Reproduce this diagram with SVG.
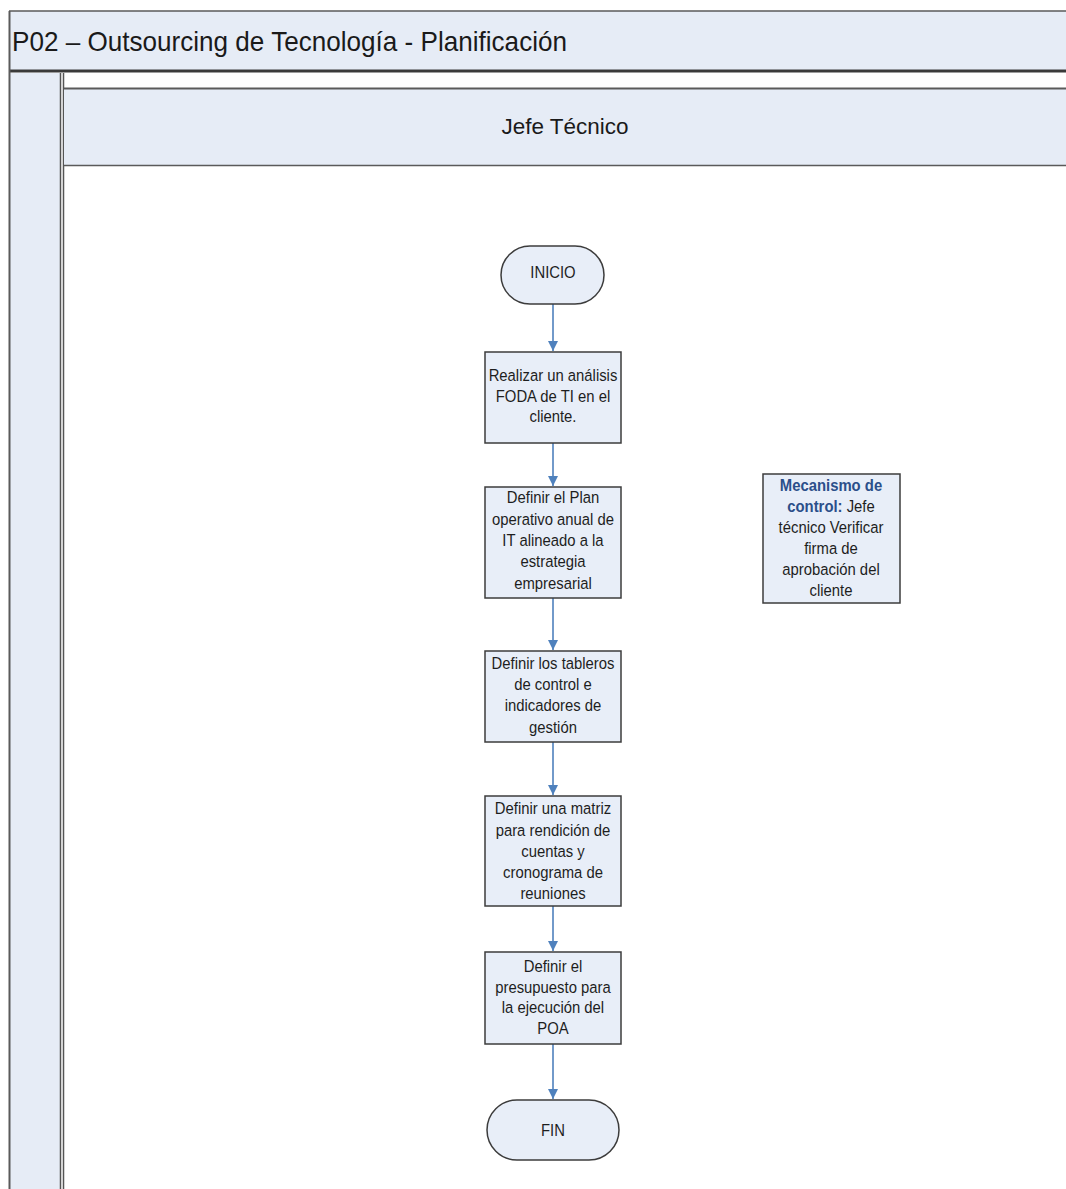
<svg xmlns="http://www.w3.org/2000/svg" width="1066" height="1189" viewBox="0 0 1066 1189">
  <style>
    .band { fill: #e6ecf6; }
    .edge { stroke: #5a5a5a; fill: none; }
    .box { fill: #e8eef8; stroke: #3c3c3c; stroke-width: 1.5; }
    .t { font-family: "Liberation Sans", Arial, sans-serif; font-size: 16.5px; fill: #1e1e1e; text-anchor: middle; }
    .hd { font-family: "Liberation Sans", Arial, sans-serif; fill: #1a1a1a; }
    .kw { font-weight: bold; fill: #2b4f8a; }
    .flow { stroke: #4f81bd; stroke-width: 1.6; fill: none; marker-end: url(#arr); }
  </style>
  <defs>
    <marker id="arr" viewBox="0 0 10 10" refX="10" refY="5" markerWidth="10" markerHeight="10" markerUnits="userSpaceOnUse" orient="auto">
      <path d="M0,0 L10,5 L0,10 z" fill="#4f81bd"/>
    </marker>
  </defs>

  <rect width="1066" height="1189" fill="#ffffff"/>

  <!-- pool title band -->
  <g id="pool">
    <rect class="band" x="9" y="11" width="1057" height="60"/>
    <line class="edge" x1="9" y1="11" x2="1066" y2="11" stroke-width="1.5"/>
    <text class="hd" x="12" y="51" font-size="28" textLength="555" lengthAdjust="spacingAndGlyphs">P02 – Outsourcing de Tecnología - Planificación</text>
    <line x1="9" y1="71" x2="1066" y2="71" stroke="#3a3a3a" stroke-width="3"/>
    <!-- left column -->
    <rect class="band" x="10" y="73" width="50" height="1116"/>
    <line class="edge" x1="9.5" y1="11" x2="9.5" y2="1189" stroke-width="2"/>
    <line x1="60.5" y1="73" x2="60.5" y2="1189" stroke="#555" stroke-width="1.5"/>
    <line x1="63.5" y1="73" x2="63.5" y2="1189" stroke="#555" stroke-width="1.5"/>
  </g>

  <!-- lane header -->
  <g id="lane">
    <rect class="band" x="64" y="88" width="1002" height="77"/>
    <line class="edge" x1="64" y1="88.5" x2="1066" y2="88.5" stroke-width="2"/>
    <line class="edge" x1="64" y1="165.5" x2="1066" y2="165.5" stroke-width="1.5"/>
    <text class="hd" x="565" y="134" font-size="22.5" text-anchor="middle" textLength="127" lengthAdjust="spacingAndGlyphs">Jefe Técnico</text>
  </g>

  <!-- connectors -->
  <g id="connectors">
    <line class="flow" x1="553" y1="304" x2="553" y2="351"/>
    <line class="flow" x1="553" y1="443" x2="553" y2="486"/>
    <line class="flow" x1="553" y1="598" x2="553" y2="650"/>
    <line class="flow" x1="553" y1="742" x2="553" y2="795"/>
    <line class="flow" x1="553" y1="906" x2="553" y2="951"/>
    <line class="flow" x1="553" y1="1044" x2="553" y2="1099"/>
  </g>

  <g id="inicio">
    <rect class="box" x="501" y="246" width="103" height="58" rx="29"/>
    <g transform="translate(55.3,0) scale(0.9,1)">
      <text class="t" x="553" y="278">INICIO</text>
    </g>
  </g>

  <g id="foda">
    <rect class="box" x="485" y="352" width="136" height="91"/>
    <g transform="translate(55.3,0) scale(0.9,1)">
      <text class="t" x="553" y="381">Realizar un análisis</text>
      <text class="t" x="553" y="402">FODA de TI en el</text>
      <text class="t" x="553" y="422">cliente.</text>
    </g>
  </g>

  <g id="plan">
    <rect class="box" x="485" y="487" width="136" height="111"/>
    <g transform="translate(55.3,0) scale(0.9,1)">
      <text class="t" x="553" y="503">Definir el Plan</text>
      <text class="t" x="553" y="525">operativo anual de</text>
      <text class="t" x="553" y="546">IT alineado a la</text>
      <text class="t" x="553" y="567">estrategia</text>
      <text class="t" x="553" y="589">empresarial</text>
    </g>
  </g>

  <g id="tableros">
    <rect class="box" x="485" y="651" width="136" height="91"/>
    <g transform="translate(55.3,0) scale(0.9,1)">
      <text class="t" x="553" y="669">Definir los tableros</text>
      <text class="t" x="553" y="690">de control e</text>
      <text class="t" x="553" y="711">indicadores de</text>
      <text class="t" x="553" y="733">gestión</text>
    </g>
  </g>

  <g id="matriz">
    <rect class="box" x="485" y="796" width="136" height="110"/>
    <g transform="translate(55.3,0) scale(0.9,1)">
      <text class="t" x="553" y="814">Definir una matriz</text>
      <text class="t" x="553" y="836">para rendición de</text>
      <text class="t" x="553" y="857">cuentas y</text>
      <text class="t" x="553" y="878">cronograma de</text>
      <text class="t" x="553" y="899">reuniones</text>
    </g>
  </g>

  <g id="presupuesto">
    <rect class="box" x="485" y="952" width="136" height="92"/>
    <g transform="translate(55.3,0) scale(0.9,1)">
      <text class="t" x="553" y="972">Definir el</text>
      <text class="t" x="553" y="993">presupuesto para</text>
      <text class="t" x="553" y="1013">la ejecución del</text>
      <text class="t" x="553" y="1034">POA</text>
    </g>
  </g>

  <g id="fin">
    <rect class="box" x="487" y="1100" width="132" height="60" rx="30"/>
    <g transform="translate(55.3,0) scale(0.9,1)">
      <text class="t" x="553" y="1136">FIN</text>
    </g>
  </g>

  <g id="control">
    <rect class="box" x="763" y="474" width="137" height="129"/>
    <g transform="translate(83.1,0) scale(0.9,1)">
      <text class="t" x="831" y="491"><tspan class="kw">Mecanismo de</tspan></text>
      <text class="t" x="831" y="512"><tspan class="kw">control:</tspan> Jefe</text>
      <text class="t" x="831" y="533">técnico Verificar</text>
      <text class="t" x="831" y="554">firma de</text>
      <text class="t" x="831" y="575">aprobación del</text>
      <text class="t" x="831" y="596">cliente</text>
    </g>
  </g>
</svg>
